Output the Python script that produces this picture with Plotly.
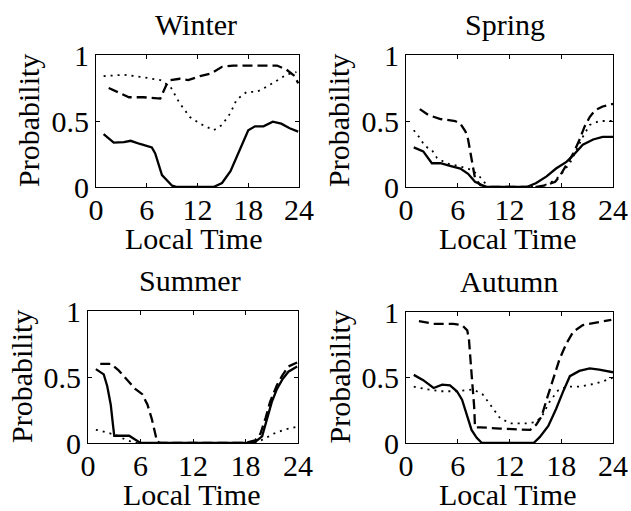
import plotly.graph_objects as go

# ---------------- data ----------------
seasons = ["Winter", "Spring", "Summer", "Autumn"]
x_ticks = [0, 6, 12, 18, 24]
y_ticks = [0, 0.5, 1]
y_tick_labels = ["0", "0.5", "1"]

winter_solid_x = [0.9, 2.1, 3.3, 4.1, 5.2, 6.6, 7.0, 7.8, 9.0, 9.6, 13.9, 14.9, 15.9, 16.8, 18.0, 18.8, 19.8, 20.9, 21.9, 22.9, 23.9]
winter_solid_y = [0.40, 0.336, 0.34, 0.35, 0.326, 0.30, 0.255, 0.09, 0.01, 0.0, 0.0, 0.03, 0.12, 0.255, 0.43, 0.46, 0.46, 0.495, 0.48, 0.445, 0.42]
winter_dash_x = [1.5, 2.9, 3.9, 5.6, 7.6, 8.3, 8.8, 9.9, 10.9, 12.3, 13.6, 14.9, 16.2, 19.0, 21.4, 22.5, 23.5, 23.9]
winter_dash_y = [0.75, 0.71, 0.68, 0.68, 0.67, 0.77, 0.81, 0.82, 0.81, 0.84, 0.86, 0.91, 0.92, 0.92, 0.92, 0.89, 0.84, 0.785]
winter_dot_x = [0.9, 3.3, 5.2, 7.6, 8.8, 9.9, 11.1, 12.3, 13.9, 14.9, 15.9, 16.6, 17.8, 19.0, 20.2, 21.4, 22.5, 23.7]
winter_dot_y = [0.84, 0.85, 0.835, 0.81, 0.76, 0.634, 0.53, 0.48, 0.43, 0.47, 0.56, 0.66, 0.72, 0.72, 0.76, 0.81, 0.85, 0.87]

spring_solid_x = [0.9, 2.0, 3.0, 4.0, 5.1, 6.3, 7.2, 8.0, 8.8, 9.4, 14.0, 15.1, 16.3, 17.4, 18.6, 19.4, 20.5, 21.7, 22.8, 24.0]
spring_solid_y = [0.30, 0.27, 0.18, 0.18, 0.16, 0.14, 0.10, 0.04, 0.015, 0.0, 0.0, 0.03, 0.08, 0.14, 0.19, 0.24, 0.32, 0.36, 0.38, 0.38]
spring_dash_x = [1.6, 2.6, 4.0, 5.7, 6.3, 6.9, 7.2, 7.5, 7.7, 8.0, 8.6, 9.4, 15.1, 16.3, 17.3, 17.8, 18.6, 19.4, 20.1, 20.7, 21.3, 21.9, 22.8, 24.0]
spring_dash_y = [0.59, 0.545, 0.515, 0.50, 0.48, 0.42, 0.36, 0.255, 0.155, 0.066, 0.015, 0.0, 0.0, 0.015, 0.04, 0.08, 0.167, 0.255, 0.356, 0.457, 0.53, 0.58, 0.61, 0.63]
spring_dot_x = [0.9, 1.5, 2.2, 3.0, 3.6, 4.7, 6.3, 7.6, 8.4, 9.0, 9.7, 15.5, 16.7, 17.8, 19.0, 19.7, 20.5, 21.3, 22.4, 24.0]
spring_dot_y = [0.43, 0.38, 0.31, 0.28, 0.22, 0.18, 0.155, 0.13, 0.09, 0.04, 0.0, 0.0, 0.03, 0.08, 0.18, 0.27, 0.38, 0.47, 0.50, 0.50]

summer_solid_x = [0.9, 1.8, 2.2, 2.6, 2.85, 3.0, 4.7, 5.4, 6.0, 18.4, 19.1, 19.9, 20.5, 21.0, 21.6, 22.2, 22.9, 23.9]
summer_solid_y = [0.56, 0.52, 0.43, 0.29, 0.14, 0.055, 0.055, 0.025, 0.0, 0.0, 0.008, 0.05, 0.19, 0.31, 0.41, 0.48, 0.54, 0.58]
summer_dash_x = [1.4, 2.6, 3.5, 4.7, 5.4, 6.2, 6.8, 7.3, 7.7, 7.9, 8.3, 18.0, 19.1, 19.7, 20.3, 20.8, 21.6, 22.2, 22.9, 23.9]
summer_dash_y = [0.60, 0.60, 0.55, 0.46, 0.41, 0.37, 0.29, 0.18, 0.08, 0.01, 0.0, 0.0, 0.02, 0.07, 0.19, 0.31, 0.44, 0.51, 0.58, 0.61]
summer_dot_x = [0.9, 1.6, 3.2, 4.3, 5.4, 19.1, 20.1, 21.2, 22.4, 23.7]
summer_dot_y = [0.10, 0.09, 0.06, 0.025, 0.0, 0.0, 0.03, 0.07, 0.10, 0.12]

autumn_solid_x = [0.9, 2.0, 3.2, 4.2, 5.1, 5.9, 6.5, 7.1, 7.6, 8.2, 8.8, 14.8, 15.5, 16.5, 17.4, 18.2, 19.0, 20.1, 21.3, 22.4, 24.0]
autumn_solid_y = [0.52, 0.48, 0.42, 0.445, 0.44, 0.395, 0.33, 0.21, 0.10, 0.04, 0.0, 0.0, 0.045, 0.13, 0.26, 0.39, 0.51, 0.55, 0.57, 0.56, 0.54]
autumn_dash_x = [1.5, 3.2, 5.5, 6.5, 7.1, 7.3, 7.6, 7.9, 8.0, 8.6, 10.9, 13.2, 14.4, 15.1, 15.7, 16.3, 17.1, 17.8, 18.6, 19.4, 20.5, 22.1, 23.8]
autumn_dash_y = [0.93, 0.91, 0.91, 0.90, 0.86, 0.79, 0.53, 0.28, 0.12, 0.12, 0.11, 0.10, 0.10, 0.14, 0.20, 0.33, 0.50, 0.64, 0.76, 0.85, 0.90, 0.92, 0.94]
autumn_dot_x = [0.9, 2.4, 4.0, 5.9, 7.8, 8.9, 9.9, 10.9, 12.1, 14.0, 15.1, 15.9, 16.6, 17.6, 18.6, 20.1, 21.7, 22.8, 24.0]
autumn_dot_y = [0.43, 0.41, 0.395, 0.395, 0.41, 0.37, 0.28, 0.19, 0.15, 0.15, 0.16, 0.22, 0.31, 0.40, 0.43, 0.43, 0.45, 0.47, 0.50]

series = {
    "Winter": [(winter_solid_x, winter_solid_y), (winter_dash_x, winter_dash_y), (winter_dot_x, winter_dot_y)],
    "Spring": [(spring_solid_x, spring_solid_y), (spring_dash_x, spring_dash_y), (spring_dot_x, spring_dot_y)],
    "Summer": [(summer_solid_x, summer_solid_y), (summer_dash_x, summer_dash_y), (summer_dot_x, summer_dot_y)],
    "Autumn": [(autumn_solid_x, autumn_solid_y), (autumn_dash_x, autumn_dash_y), (autumn_dot_x, autumn_dot_y)],
}

# ---------------- layout ----------------
W, H = 631, 511
FONT = "Liberation Serif"
FS = 30

# axes boxes in pixels: (left, right, top, bottom)
boxes = {
    "Winter": (96, 299, 55, 187),
    "Spring": (406, 613, 55, 187),
    "Summer": (88, 298, 311, 443),
    "Autumn": (406, 613, 312, 443),
}
# text centres in pixels
title_cx = {"Winter": 196, "Spring": 505, "Summer": 190, "Autumn": 509}
xlabel_cx = {"Winter": 194, "Spring": 508, "Summer": 192, "Autumn": 508}

styles = [
    dict(color="black", width=2.3, dash="solid"),
    dict(color="black", width=2.3, dash="10px,5px"),
    dict(color="black", width=1.8, dash="2px,5px"),
]

fig = go.Figure()
annotations = []
for i, s in enumerate(seasons):
    n = "" if i == 0 else str(i + 1)
    l, r, t, b = boxes[s]
    for (xs, ys), st in zip(series[s], styles):
        fig.add_trace(go.Scatter(x=xs, y=ys, mode="lines", line=st,
                                 xaxis="x" + n, yaxis="y" + n,
                                 showlegend=False, hoverinfo="skip"))
    common = dict(showline=True, linecolor="black", linewidth=1, mirror="ticks",
                  ticks="inside", ticklen=4, tickcolor="black", showgrid=False,
                  zeroline=False, fixedrange=True, automargin=False,
                  tickfont=dict(family=FONT, size=FS, color="black"))
    fig.layout["xaxis" + n] = dict(common, domain=[l / W, r / W], range=[0, 24],
                                   tickvals=x_ticks, anchor="y" + n,
                                   ticklabelstandoff=-4)
    fig.layout["yaxis" + n] = dict(common, domain=[1 - b / H, 1 - t / H], range=[0, 1],
                                   tickvals=y_ticks, ticktext=y_tick_labels,
                                   anchor="x" + n)
    annotations.append(dict(text=s, x=title_cx[s] / W, y=1 - (t - 30.5) / H,
                            xref="paper", yref="paper", showarrow=False,
                            xanchor="center", yanchor="middle",
                            font=dict(family=FONT, size=FS, color="black")))
    annotations.append(dict(text="Local Time", x=xlabel_cx[s] / W, y=1 - (b + 51) / H,
                            xref="paper", yref="paper", showarrow=False,
                            xanchor="center", yanchor="middle",
                            font=dict(family=FONT, size=FS, color="black")))
    annotations.append(dict(text="Probability", x=(l - 67) / W, y=1 - ((t + b) / 2) / H,
                            xref="paper", yref="paper", showarrow=False, textangle=-90,
                            xanchor="center", yanchor="middle",
                            font=dict(family=FONT, size=FS, color="black")))

fig.update_layout(width=W, height=H, margin=dict(l=0, r=0, t=0, b=0, autoexpand=False),
                  paper_bgcolor="white", plot_bgcolor="white",
                  annotations=annotations, showlegend=False)

fig.write_html("out.html", config={"displayModeBar": False, "staticPlot": True},
               post_script="document.body.style.margin='0px';document.body.style.overflow='hidden';")
